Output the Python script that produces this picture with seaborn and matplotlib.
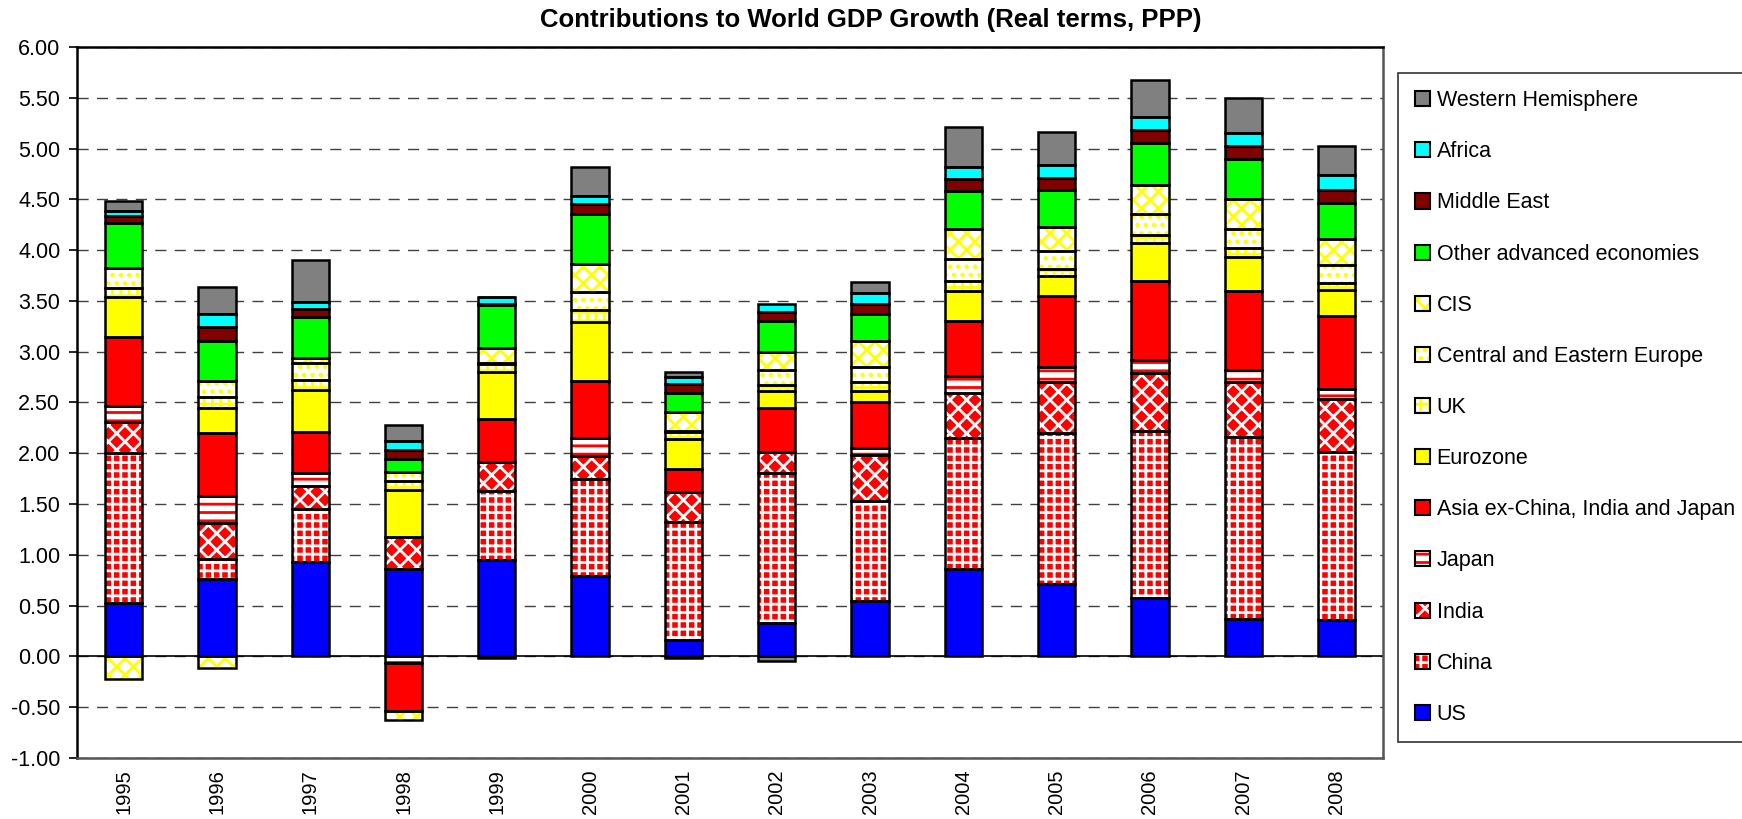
import numpy as np
import matplotlib
matplotlib.use("Agg")
import matplotlib.pyplot as plt
import matplotlib.patches as mpatches
import seaborn as sns

# ---------------- data ----------------
years = ["1995", "1996", "1997", "1998", "1999", "2000", "2001",
         "2002", "2003", "2004", "2005", "2006", "2007", "2008"]

us       = [0.53, 0.76, 0.93, 0.86, 0.95, 0.79, 0.16, 0.33, 0.55, 0.86, 0.71, 0.58, 0.37, 0.36]
china    = [1.47, 0.20, 0.52, 0.00, 0.68, 0.96, 1.16, 1.48, 0.98, 1.29, 1.49, 1.64, 1.79, 1.65]
india    = [0.31, 0.35, 0.23, 0.32, 0.28, 0.22, 0.30, 0.20, 0.45, 0.44, 0.50, 0.57, 0.54, 0.52]
japan    = [0.16, 0.27, 0.13, -0.06, -0.02, 0.18, -0.02, 0.00, 0.07, 0.17, 0.15, 0.13, 0.12, 0.10]
asia     = [0.67, 0.62, 0.40, -0.48, 0.43, 0.56, 0.23, 0.44, 0.45, 0.54, 0.70, 0.78, 0.78, 0.72]
eurozone = [0.40, 0.25, 0.41, 0.46, 0.46, 0.58, 0.29, 0.16, 0.11, 0.30, 0.20, 0.37, 0.33, 0.26]
uk       = [0.09, 0.10, 0.10, 0.09, 0.08, 0.12, 0.07, 0.06, 0.09, 0.10, 0.06, 0.08, 0.09, 0.07]
cee      = [0.19, 0.16, 0.17, 0.09, 0.01, 0.18, 0.01, 0.15, 0.15, 0.21, 0.18, 0.21, 0.19, 0.17]
cis      = [-0.22, -0.11, 0.05, -0.09, 0.15, 0.27, 0.19, 0.18, 0.26, 0.30, 0.24, 0.28, 0.29, 0.26]
other    = [0.45, 0.40, 0.40, 0.12, 0.42, 0.50, 0.18, 0.30, 0.26, 0.37, 0.36, 0.41, 0.40, 0.35]
mideast  = [0.07, 0.13, 0.08, 0.09, 0.01, 0.09, 0.09, 0.09, 0.10, 0.12, 0.12, 0.13, 0.13, 0.13]
africa   = [0.05, 0.13, 0.07, 0.09, 0.07, 0.08, 0.07, 0.08, 0.11, 0.12, 0.13, 0.13, 0.12, 0.15]
westhem  = [0.09, 0.27, 0.41, 0.16, 0.00, 0.29, 0.05, -0.05, 0.11, 0.39, 0.32, 0.37, 0.35, 0.29]

series_names = ["US", "China", "India", "Japan", "Asia ex-China, India and Japan",
                "Eurozone", "UK", "Central and Eastern Europe", "CIS",
                "Other advanced economies", "Middle East", "Africa", "Western Hemisphere"]
series_values = [us, china, india, japan, asia, eurozone, uk, cee, cis,
                 other, mideast, africa, westhem]

yticks = [-1.0, -0.5, 0.0, 0.5, 1.0, 1.5, 2.0, 2.5, 3.0, 3.5, 4.0, 4.5, 5.0, 5.5, 6.0]

# styles: (face colour, hatch colour, hatch)
styles = [
    ("#0000ff", "#0000ff", None),
    ("#ff0000", "#ffffff", "++"),
    ("#ff0000", "#ffffff", "xx"),
    ("#ffffff", "#ff0000", "--"),
    ("#ff0000", "#ff0000", None),
    ("#ffff00", "#ffff00", None),
    ("#ffffff", "#ffff00", "++"),
    ("#ffffff", "#ffff00", ".."),
    ("#ffffff", "#ffff00", "xx"),
    ("#00ff00", "#00ff00", None),
    ("#800000", "#800000", None),
    ("#00ffff", "#00ffff", None),
    ("#808080", "#808080", None),
]

# ---------------- style ----------------
sns.set_theme(style="white")
plt.rcParams["font.family"] = ["Liberation Sans", "DejaVu Sans"]
plt.rcParams["hatch.linewidth"] = 2.0

fig, ax = plt.subplots(figsize=(17.42, 8.19), dpi=100)
fig.subplots_adjust(left=0.0442, right=0.794, top=0.9426, bottom=0.0745)

n = len(years)
pos_base = np.zeros(n)
neg_base = np.zeros(n)
bar_w = 0.40
handles = []
outline_specs = []

for name, vals, (face, hcol, hatch) in zip(series_names, series_values, styles):
    v = np.array(vals, dtype=float)
    bottom = np.where(v >= 0, pos_base, neg_base)
    k0 = len(ax.patches)
    sns.barplot(x=years, y=v, bottom=bottom, order=years, color=face,
                saturation=1, width=bar_w, errorbar=None, ax=ax, zorder=3)
    for p in ax.patches[k0:]:
        p.set_facecolor(face)
        p.set_edgecolor(hcol)
        p.set_linewidth(0)
        if hatch:
            p.set_hatch(hatch)
        p.set_zorder(3)
    outline_specs.append((v, bottom))
    pos_base = pos_base + np.where(v > 0, v, 0)
    neg_base = neg_base + np.where(v < 0, v, 0)
    h1 = mpatches.Patch(facecolor=face, edgecolor=hcol, hatch=hatch, linewidth=0)
    h2 = mpatches.Patch(facecolor="none", edgecolor="black", linewidth=1.5)
    handles.append((h1, h2))

# outlines
for v, bottom in outline_specs:
    k0 = len(ax.patches)
    sns.barplot(x=years, y=v, bottom=bottom, order=years, color="black",
                saturation=1, width=bar_w, errorbar=None, ax=ax, zorder=4)
    for p in ax.patches[k0:]:
        p.set_facecolor("none")
        p.set_edgecolor("black")
        p.set_linewidth(1.8)
        p.set_zorder(4)

# axes cosmetics
ax.set_ylim(-1.0, 6.0)
ax.set_xlim(-0.5, n - 0.5)
ax.set_yticks(yticks)
ax.set_yticklabels([f"{t:.2f}" for t in yticks], fontsize=15.5)
ax.set_xticks(range(n))
ax.set_xticklabels(years, rotation=90, fontsize=14.5)
ax.tick_params(axis="x", length=0, pad=8)
ax.tick_params(axis="y", direction="out", length=6, width=1.2, color="black", left=True, pad=6)
ax.set_xlabel("")
ax.set_ylabel("")
ax.yaxis.grid(True, linestyle=(0, (8, 6)), color="#404040", linewidth=1.0, zorder=0)
ax.xaxis.grid(False)
ax.set_axisbelow(True)
ax.axhline(0, color="black", linewidth=1.2, zorder=2)
for s in ["left", "top"]:
    ax.spines[s].set_color("black")
    ax.spines[s].set_linewidth(1.8)
for s in ["right", "bottom"]:
    ax.spines[s].set_color("#555555")
    ax.spines[s].set_linewidth(1.8)
for lab in ax.get_xticklabels() + ax.get_yticklabels():
    lab.set_color("black")

fig.text(0.5, 0.976, "Contributions to World GDP Growth (Real terms, PPP)",
         ha="center", va="center", fontsize=18.5, fontweight="bold", color="black")

leg = fig.legend(handles[::-1], series_names[::-1], loc="upper left",
                 bbox_to_anchor=(1398 / 1742, 1 - 73 / 819), bbox_transform=fig.transFigure,
                 frameon=True, fancybox=False, edgecolor="black", fontsize=15.5,
                 labelspacing=1.40, handlelength=0.7, handleheight=0.7,
                 handletextpad=0.3, borderpad=0.8, borderaxespad=0)
leg.get_frame().set_linewidth(1.2)
for t in leg.get_texts():
    t.set_color("black")

fig.savefig("out.png", dpi=100)
